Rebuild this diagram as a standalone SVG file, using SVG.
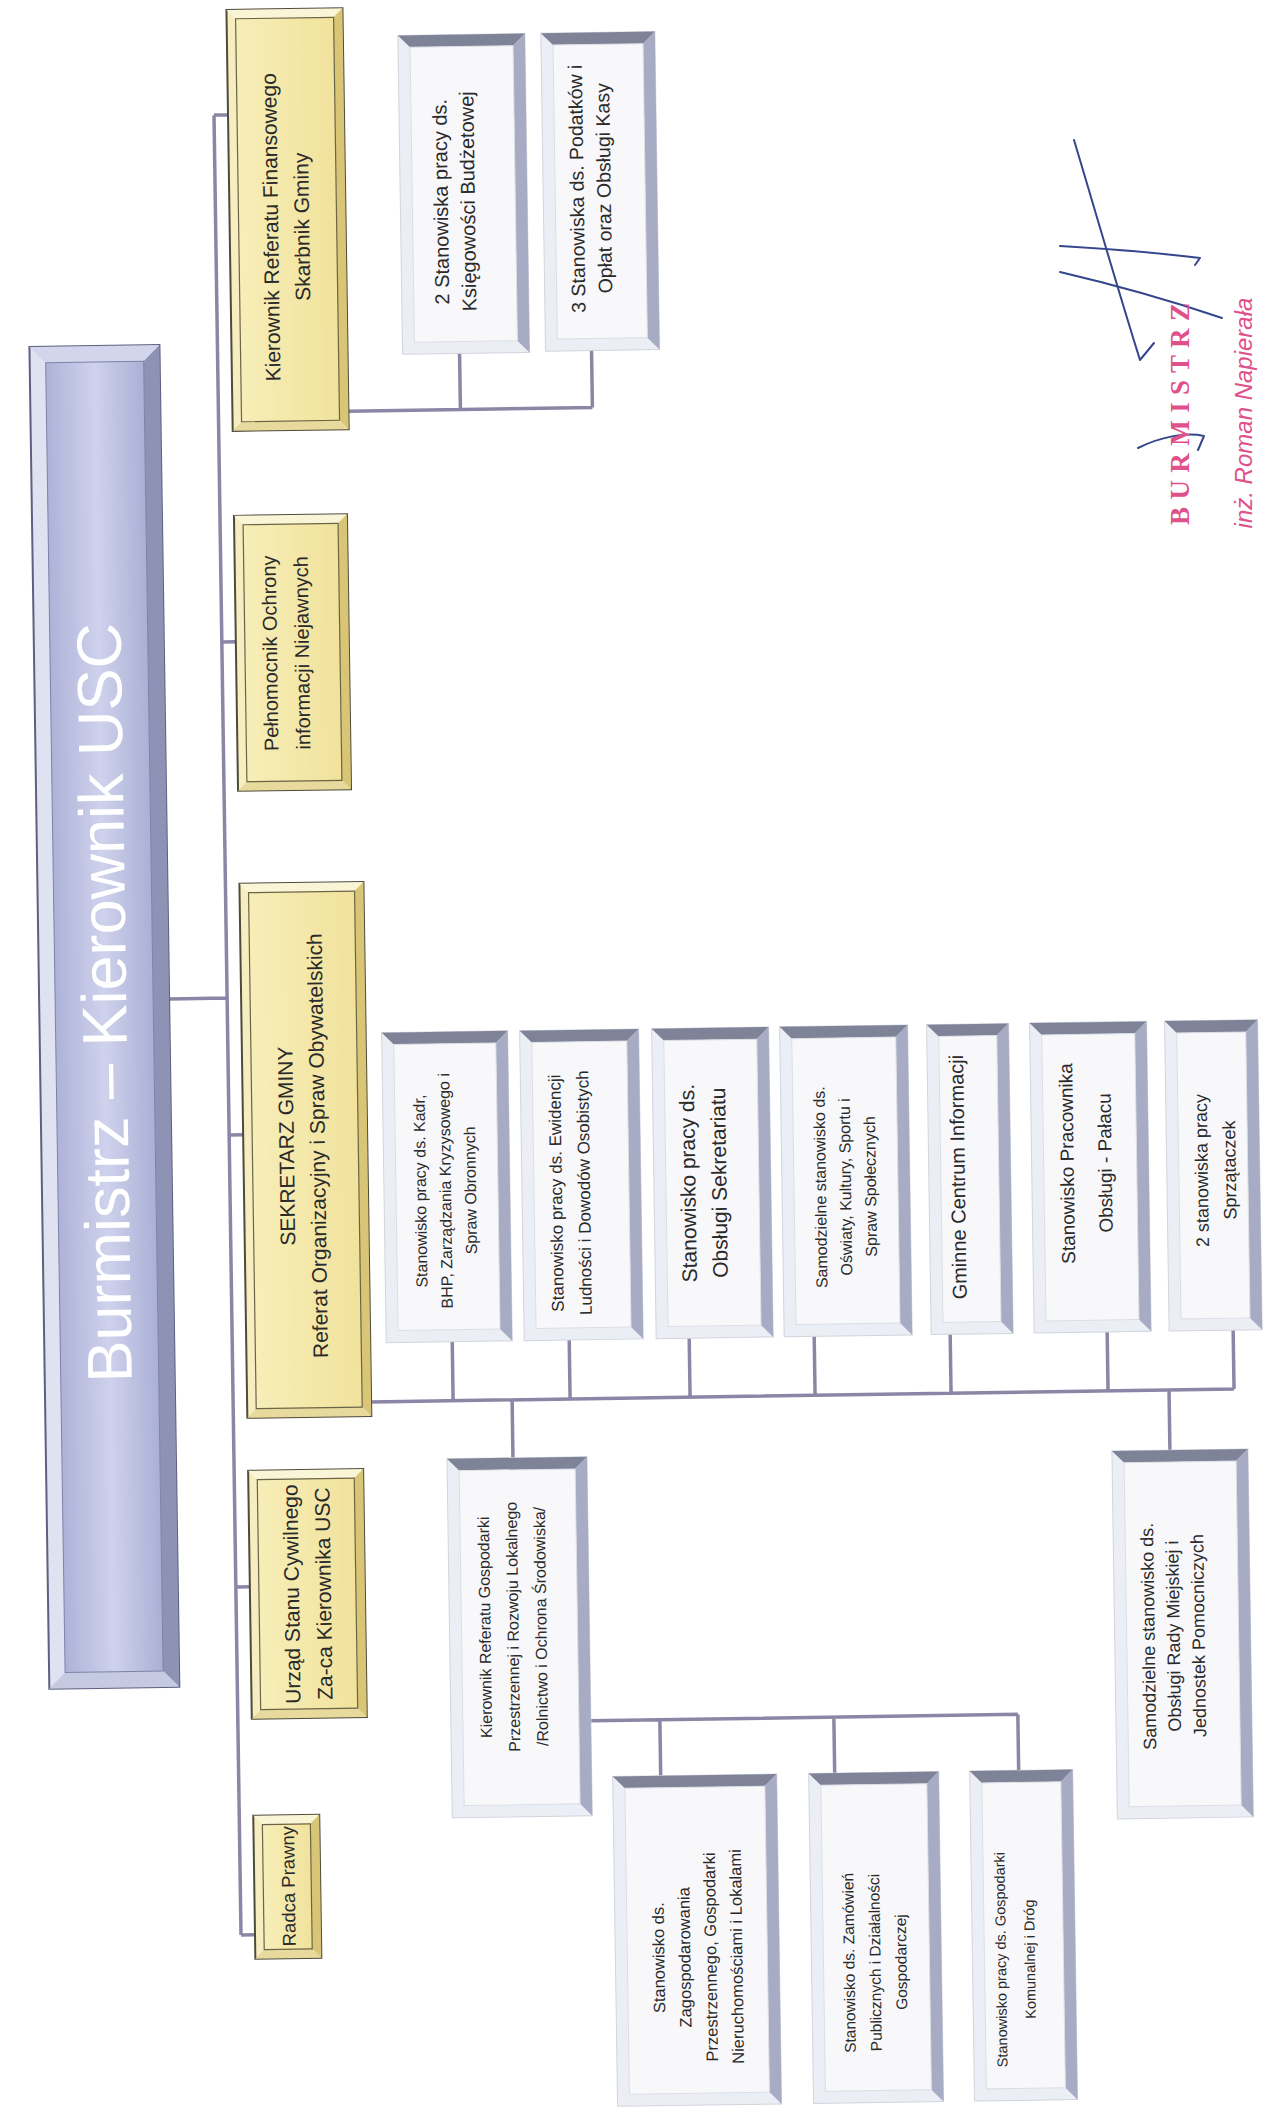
<svg xmlns="http://www.w3.org/2000/svg" width="1267" height="2111" viewBox="0 0 1267 2111">
<defs>
<linearGradient id="mainFill" x1="0" y1="0" x2="1" y2="0">
<stop offset="0" stop-color="#aeb2d8"/>
<stop offset="0.5" stop-color="#cfd2ec"/>
<stop offset="1" stop-color="#aab0d6"/>
</linearGradient>
<linearGradient id="yelFill" x1="0" y1="0" x2="1" y2="0">
<stop offset="0" stop-color="#f7eeb8"/>
<stop offset="1" stop-color="#f1e29c"/>
</linearGradient>
<style>
.t{font-family:"Liberation Sans",Arial,sans-serif;text-anchor:middle;dominant-baseline:central;fill:#2a2a2a}
.main-t{font-family:"Liberation Sans",Arial,sans-serif;text-anchor:middle;dominant-baseline:central;fill:#ffffff;font-size:63px}
.yo{fill:#f6edc0;stroke:#4f4b3b;stroke-width:2}
.yt{fill:#fbf5d8}
.yr{fill:#d8c676}
.yb{fill:#e8d99c}
.yi{fill:url(#yelFill);stroke:#6b6545;stroke-width:1.2}
.wo{fill:#eceef5;stroke:#d2d4de;stroke-width:1}
.wt{fill:#7f8397}
.wr{fill:#a7abc3}
.wi{fill:#f8f8fb;stroke:#dcdee6;stroke-width:1}
.mo{fill:#dfe2f1;stroke:#5d6080;stroke-width:2}
.mt{fill:#d2d5ec}
.mr{fill:#8e93b5}
.mb{fill:#c5c9e2}
.mi{fill:url(#mainFill);stroke:#7d82a8;stroke-width:1}
.c{fill:none;stroke:#8c86a6;stroke-width:3.5}
.sig{fill:none;stroke:#34468c;stroke-width:2;stroke-linecap:round;stroke-linejoin:round}
.pink{fill:#e0508a;text-anchor:middle;dominant-baseline:central}
</style>
</defs>
<rect width="1267" height="2111" fill="#ffffff"/>
<g transform="rotate(-0.85 633 1055)">
<g id="connectors">
<path class="c" d="M228 109V1929M228 109H242M228 636H242M228 1129H242M228 1581H242M228 1929H242M170 992H228"/>
<path class="c" d="M358 407H602M470 351V407M602 350V407"/>
<path class="c" d="M366 1398H1229M448 1339V1398M565 1339V1398M685 1339V1398M810 1339V1398M946 1339V1398M1103 1339V1398M1229 1339V1398M507 1398V1456M1164 1398V1458"/>
<path class="c" d="M581 1720H1008M650 1720V1776M824 1720V1776M1008 1720V1776"/>
</g>
<g id="burmistrz">
<rect class="mo" x="40" y="338" width="130" height="1342"/>
<polygon class="mt" points="40,338 170,338 154,354 56,354"/>
<polygon class="mr" points="170,338 170,1680 154,1664 154,354"/>
<polygon class="mb" points="40,1680 170,1680 154,1664 56,1664"/>
<rect class="mi" x="56" y="354" width="98" height="1310"/>
<text class="main-t" transform="translate(105 995) rotate(-90)">Burmistrz – Kierownik USC</text>
</g>
<g id="skarbnik">
<rect class="yo" x="242" y="4" width="116" height="421"/>
<polygon class="yt" points="242,4 358,4 349,13 251,13"/>
<polygon class="yr" points="358,4 358,425 349,416 349,13"/>
<polygon class="yb" points="242,425 358,425 349,416 251,416"/>
<rect class="yi" x="251" y="13" width="98" height="403"/>
<text class="t" style="font-size:21px" transform="translate(298 222) rotate(-90)"><tspan x="0" y="-15.5">Kierownik Referatu Finansowego</tspan><tspan x="0" y="15.5">Skarbnik Gminy</tspan></text>
</g>
<g id="pelnomocnik">
<rect class="yo" x="242" y="510" width="113" height="275"/>
<polygon class="yt" points="242,510 355,510 346,519 251,519"/>
<polygon class="yr" points="355,510 355,785 346,776 346,519"/>
<polygon class="yb" points="242,785 355,785 346,776 251,776"/>
<rect class="yi" x="251" y="519" width="95" height="257"/>
<text class="t" style="font-size:20px" transform="translate(292 648) rotate(-90)"><tspan x="0" y="-16">Pełnomocnik Ochrony</tspan><tspan x="0" y="16">informacji Niejawnych</tspan></text>
</g>
<g id="sekretarz">
<rect class="yo" x="242" y="878" width="124" height="534"/>
<polygon class="yt" points="242,878 366,878 357,887 251,887"/>
<polygon class="yr" points="366,878 366,1412 357,1403 357,887"/>
<polygon class="yb" points="242,1412 366,1412 357,1403 251,1403"/>
<rect class="yi" x="251" y="887" width="106" height="516"/>
<text class="t" style="font-size:21px" transform="translate(300 1141) rotate(-90)"><tspan x="0" y="-15.5">SEKRETARZ GMINY</tspan><tspan x="0" y="15.5">Referat Organizacyjny i Spraw Obywatelskich</tspan></text>
</g>
<g id="usc">
<rect class="yo" x="242" y="1465" width="115" height="248"/>
<polygon class="yt" points="242,1465 357,1465 348,1474 251,1474"/>
<polygon class="yr" points="357,1465 357,1713 348,1704 348,1474"/>
<polygon class="yb" points="242,1713 357,1713 348,1704 251,1704"/>
<rect class="yi" x="251" y="1474" width="97" height="230"/>
<text class="t" style="font-size:21px" transform="translate(299 1589) rotate(-90)"><tspan x="0" y="-16">Urząd Stanu Cywilnego</tspan><tspan x="0" y="16">Za-ca Kierownika USC</tspan></text>
</g>
<g id="radca">
<rect class="yo" x="242" y="1810" width="66" height="143"/>
<polygon class="yt" points="242,1810 308,1810 299,1819 251,1819"/>
<polygon class="yr" points="308,1810 308,1953 299,1944 299,1819"/>
<polygon class="yb" points="242,1953 308,1953 299,1944 251,1944"/>
<rect class="yi" x="251" y="1819" width="48" height="125"/>
<text class="t" style="font-size:18.5px" transform="translate(276 1881) rotate(-90)">Radca Prawny</text>
</g>
<g id="ksiegowosc">
<rect class="wo" x="413" y="32" width="127" height="319"/>
<polygon class="wt" points="413,32 540,32 528,44 425,44"/>
<polygon class="wr" points="540,32 540,351 528,339 528,44"/>
<rect class="wi" x="425" y="44" width="103" height="295"/>
<text class="t" style="font-size:20px" transform="translate(467 199) rotate(-90)"><tspan x="0" y="-13.5">2 Stanowiska pracy ds.</tspan><tspan x="0" y="13.5">Księgowości Budżetowej</tspan></text>
</g>
<g id="podatki">
<rect class="wo" x="556" y="32" width="114" height="318"/>
<polygon class="wt" points="556,32 670,32 658,44 568,44"/>
<polygon class="wr" points="670,32 670,350 658,338 658,44"/>
<rect class="wi" x="568" y="44" width="90" height="294"/>
<text class="t" style="font-size:19.5px" transform="translate(603 188) rotate(-90)"><tspan x="0" y="-13.5">3 Stanowiska ds. Podatków i</tspan><tspan x="0" y="13.5">Opłat oraz Obsługi Kasy</tspan></text>
</g>
<g id="kadry">
<rect class="wo" x="382" y="1029" width="126" height="310"/>
<polygon class="wt" points="382,1029 508,1029 496,1041 394,1041"/>
<polygon class="wr" points="508,1029 508,1339 496,1327 496,1041"/>
<rect class="wi" x="394" y="1041" width="102" height="286"/>
<text class="t" style="font-size:16px" transform="translate(443 1188) rotate(-90)"><tspan x="0" y="-25">Stanowisko pracy ds. Kadr,</tspan><tspan x="0" y="0">BHP, Zarządzania Kryzysowego i</tspan><tspan x="0" y="25">Spraw Obronnych</tspan></text>
</g>
<g id="ewidencja">
<rect class="wo" x="520" y="1029" width="119" height="310"/>
<polygon class="wt" points="520,1029 639,1029 627,1041 532,1041"/>
<polygon class="wr" points="639,1029 639,1339 627,1327 627,1041"/>
<rect class="wi" x="532" y="1041" width="95" height="286"/>
<text class="t" style="font-size:17px" transform="translate(568 1192) rotate(-90)"><tspan x="0" y="-14">Stanowisko pracy ds. Ewidencji</tspan><tspan x="0" y="14">Ludności i Dowodów Osobistych</tspan></text>
</g>
<g id="sekretariat">
<rect class="wo" x="652" y="1029" width="117" height="310"/>
<polygon class="wt" points="652,1029 769,1029 757,1041 664,1041"/>
<polygon class="wr" points="769,1029 769,1339 757,1327 757,1041"/>
<rect class="wi" x="664" y="1041" width="93" height="286"/>
<text class="t" style="font-size:21px" transform="translate(701 1184) rotate(-90)"><tspan x="0" y="-15.5">Stanowisko pracy ds.</tspan><tspan x="0" y="15.5">Obsługi Sekretariatu</tspan></text>
</g>
<g id="oswiata">
<rect class="wo" x="780" y="1029" width="128" height="310"/>
<polygon class="wt" points="780,1029 908,1029 896,1041 792,1041"/>
<polygon class="wr" points="908,1029 908,1339 896,1327 896,1041"/>
<rect class="wi" x="792" y="1041" width="104" height="286"/>
<text class="t" style="font-size:16px" transform="translate(843 1190) rotate(-90)"><tspan x="0" y="-25">Samodzielne stanowisko ds.</tspan><tspan x="0" y="0">Oświaty, Kultury, Sportu i</tspan><tspan x="0" y="25">Spraw Społecznych</tspan></text>
</g>
<g id="gci">
<rect class="wo" x="927" y="1029" width="82" height="310"/>
<polygon class="wt" points="927,1029 1009,1029 997,1041 939,1041"/>
<polygon class="wr" points="1009,1029 1009,1339 997,1327 997,1041"/>
<rect class="wi" x="939" y="1041" width="58" height="286"/>
<text class="t" style="font-size:20px" transform="translate(956 1182) rotate(-90)">Gminne Centrum Informacji</text>
</g>
<g id="palac">
<rect class="wo" x="1030" y="1029" width="117" height="310"/>
<polygon class="wt" points="1030,1029 1147,1029 1135,1041 1042,1041"/>
<polygon class="wr" points="1147,1029 1147,1339 1135,1327 1135,1041"/>
<rect class="wi" x="1042" y="1041" width="93" height="286"/>
<text class="t" style="font-size:19px" transform="translate(1084 1170) rotate(-90)"><tspan x="0" y="-19">Stanowisko Pracownika</tspan><tspan x="0" y="19">Obsługi - Pałacu</tspan></text>
</g>
<g id="sprzataczki">
<rect class="wo" x="1165" y="1029" width="93" height="310"/>
<polygon class="wt" points="1165,1029 1258,1029 1246,1041 1177,1041"/>
<polygon class="wr" points="1258,1029 1258,1339 1246,1327 1246,1041"/>
<rect class="wi" x="1177" y="1041" width="69" height="286"/>
<text class="t" style="font-size:18px" transform="translate(1214 1179) rotate(-90)"><tspan x="0" y="-14">2 stanowiska pracy</tspan><tspan x="0" y="14">Sprzątaczek</tspan></text>
</g>
<g id="gospodarka">
<rect class="wo" x="441" y="1456" width="140" height="359"/>
<polygon class="wt" points="441,1456 581,1456 569,1468 453,1468"/>
<polygon class="wr" points="581,1456 581,1815 569,1803 569,1468"/>
<rect class="wi" x="453" y="1468" width="116" height="335"/>
<text class="t" style="font-size:16px" transform="translate(504 1625) rotate(-90)"><tspan x="0" y="-28">Kierownik Referatu Gospodarki</tspan><tspan x="0" y="0">Przestrzennej i Rozwoju Lokalnego</tspan><tspan x="0" y="28">/Rolnictwo i Ochrona Środowiska/</tspan></text>
</g>
<g id="rada">
<rect class="wo" x="1106" y="1458" width="136" height="368"/>
<polygon class="wt" points="1106,1458 1242,1458 1230,1470 1118,1470"/>
<polygon class="wr" points="1242,1458 1242,1826 1230,1814 1230,1470"/>
<rect class="wi" x="1118" y="1470" width="112" height="344"/>
<text class="t" style="font-size:18px" transform="translate(1165 1644) rotate(-90)"><tspan x="0" y="-25">Samodzielne stanowisko ds.</tspan><tspan x="0" y="0">Obsługi Rady Miejskiej i</tspan><tspan x="0" y="25">Jednostek Pomocniczych</tspan></text>
</g>
<g id="zagospodarowanie">
<rect class="wo" x="602" y="1776" width="164" height="330"/>
<polygon class="wt" points="602,1776 766,1776 754,1788 614,1788"/>
<polygon class="wr" points="766,1776 766,2106 754,2094 754,1788"/>
<rect class="wi" x="614" y="1788" width="140" height="306"/>
<text class="t" style="font-size:16.5px" transform="translate(684 1958) rotate(-90)"><tspan x="0" y="-39">Stanowisko ds.</tspan><tspan x="0" y="-13">Zagospodarowania</tspan><tspan x="0" y="13">Przestrzennego, Gospodarki</tspan><tspan x="0" y="39">Nieruchomościami i Lokalami</tspan></text>
</g>
<g id="zamowienia">
<rect class="wo" x="798" y="1776" width="130" height="330"/>
<polygon class="wt" points="798,1776 928,1776 916,1788 810,1788"/>
<polygon class="wr" points="928,1776 928,2106 916,2094 916,1788"/>
<rect class="wi" x="810" y="1788" width="106" height="306"/>
<text class="t" style="font-size:15.5px" transform="translate(861 1966) rotate(-90)"><tspan x="0" y="-26">Stanowisko ds. Zamówień</tspan><tspan x="0" y="0">Publicznych i Działalności</tspan><tspan x="0" y="26">Gospodarczej</tspan></text>
</g>
<g id="komunalna">
<rect class="wo" x="959" y="1776" width="103" height="330"/>
<polygon class="wt" points="959,1776 1062,1776 1050,1788 971,1788"/>
<polygon class="wr" points="1062,1776 1062,2106 1050,2094 1050,1788"/>
<rect class="wi" x="971" y="1788" width="79" height="306"/>
<text class="t" style="font-size:14.5px" transform="translate(1002 1965) rotate(-90)"><tspan x="0" y="-14.5">Stanowisko pracy ds. Gospodarki</tspan><tspan x="0" y="14.5">Komunalnej i Dróg</tspan></text>
</g>
</g>
<g id="podpis">
<path class="sig" d="M1074 140C1095 210 1118 290 1140 360L1154 343"/>
<path class="sig" d="M1060 246C1110 249 1160 253 1200 258L1195 265"/>
<path class="sig" d="M1060 272C1120 286 1175 302 1222 318"/>
<path class="sig" d="M1138 448C1160 437 1185 432 1204 436L1198 450"/>
<text class="pink" transform="translate(1180 414) rotate(-90)" style="font-family:'Liberation Serif',serif;font-weight:bold;font-size:27px" textLength="222" lengthAdjust="spacing">B U R M I S T R Z</text>
<text class="pink" transform="translate(1243 413) rotate(-90)" style="font-family:'Liberation Sans',Arial,sans-serif;font-style:italic;font-size:24px">inż. Roman Napierała</text>
</g>
</svg>
